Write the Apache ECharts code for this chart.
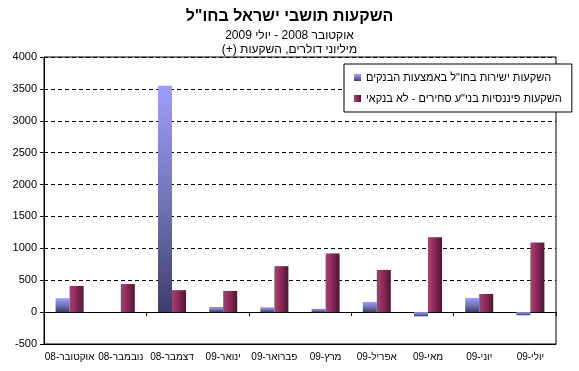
<!DOCTYPE html>
<html>
<head>
<meta charset="utf-8">
<script src="https://cdn.jsdelivr.net/npm/echarts@6/dist/echarts.min.js"></script>
<style>
html,body{margin:0;padding:0;background:#fff;}
#chart{width:579px;height:371px;}
</style>
</head>
<body>
<div id="chart"></div>
<script>
const categories = ['אוקטובר-08','נובמבר-08','דצמבר-08','ינואר-09','פברואר-09','מרץ-09','אפריל-09','מאי-09','יוני-09','יולי-09'];
const seriesNames = ['השקעות ישירות בחו"ל באמצעות הבנקים', 'השקעות פיננסיות בני"ע סחירים - לא בנקאי'];
const directBanks = [218, 0, 3550, 82, 76, 52, 160, -66, 222, -50];
const securitiesNonBank = [410, 440, 344, 332, 720, 920, 662, 1172, 285, 1092];
const titleText = 'השקעות תושבי ישראל בחו"ל';
const subtitle1 = 'אוקטובר 2008 - יולי 2009';
const subtitle2 = 'מיליוני דולרים, השקעות (+)';

const RLM = '\u200F';
const FONT = '"Liberation Sans", Arial, "DejaVu Sans", sans-serif';
const blueGrad = new echarts.graphic.LinearGradient(0, 0, 0, 1, [
  {offset: 0, color: '#9e9eff'},
  {offset: 0.5, color: '#7474b8'},
  {offset: 1, color: '#3e3e6c'}
]);
const maroonGrad = new echarts.graphic.LinearGradient(0, 0, 1, 0, [
  {offset: 0, color: '#a5426f'},
  {offset: 0.45, color: '#8c2c5b'},
  {offset: 1, color: '#4a1832'}
]);

const chart = echarts.init(document.getElementById('chart'), null, {renderer: 'canvas'});
chart.setOption({
  animation: false,
  backgroundColor: '#ffffff',
  textStyle: {fontFamily: FONT},
  title: [
    {text: titleText, left: 'center', top: 4, textStyle: {fontFamily: FONT, fontSize: 16, fontWeight: 'bold', color: '#000'}},
    {text: RLM + subtitle1 + RLM, left: 'center', top: 25, textStyle: {fontFamily: FONT, fontSize: 12, fontWeight: 'normal', color: '#000'}},
    {text: RLM + subtitle2 + RLM, left: 'center', top: 39, textStyle: {fontFamily: FONT, fontSize: 12, fontWeight: 'normal', color: '#000'}}
  ],
  legend: {
    orient: 'vertical',
    left: 344, top: 64,
    padding: [8, 10, 8, 10],
    itemGap: 10,
    itemWidth: 7, itemHeight: 7,
    icon: 'rect',
    borderColor: '#000', borderWidth: 1,
    backgroundColor: '#fff',
    textStyle: {fontFamily: FONT, fontSize: 11, color: '#000'},
    data: seriesNames
  },
  grid: {
    left: 44, right: 23, top: 57, bottom: 27,
    show: true, borderColor: '#000', borderWidth: 1, backgroundColor: 'transparent'
  },
  xAxis: [
    {
      type: 'category', data: categories, position: 'bottom',
      axisLine: {onZero: true, lineStyle: {color: '#000', width: 1}},
      axisTick: {show: true, length: 4, lineStyle: {color: '#000'}},
      axisLabel: {show: false},
      splitLine: {show: false}
    },
    {
      type: 'category', data: categories, position: 'bottom',
      axisLine: {onZero: false, show: true, lineStyle: {color: '#000', width: 1}},
      axisTick: {show: false},
      axisLabel: {show: true, margin: 8, fontFamily: FONT, fontSize: 10, color: '#000', interval: 0},
      splitLine: {show: false}
    }
  ],
  yAxis: {
    type: 'value', min: -500, max: 4000, interval: 500,
    axisLine: {show: true, lineStyle: {color: '#000', width: 1}},
    axisTick: {show: true, length: 4, lineStyle: {color: '#000'}},
    axisLabel: {margin: 7, fontFamily: FONT, fontSize: 11, color: '#000', formatter: v => String(v)},
    splitLine: {show: true, lineStyle: {color: '#000', width: 1, type: [4, 3]}}
  },
  series: [
    {
      name: seriesNames[0], type: 'bar', xAxisIndex: 0, data: directBanks,
      barWidth: 14, barGap: '0%',
      itemStyle: {color: blueGrad}
    },
    {
      name: seriesNames[1], type: 'bar', xAxisIndex: 0, data: securitiesNonBank,
      barWidth: 14, barGap: '0%',
      itemStyle: {color: maroonGrad}
    }
  ]
});
</script>
</body>
</html>
